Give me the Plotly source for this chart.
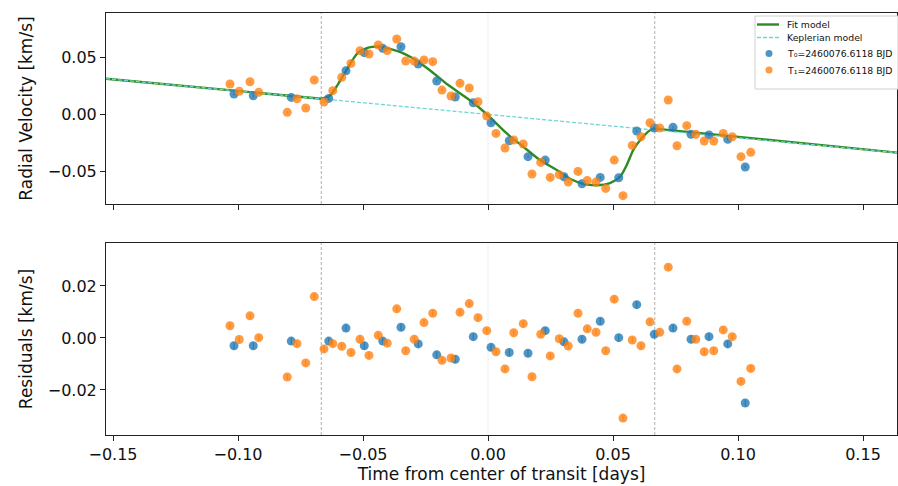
import plotly.graph_objects as go

# ---- Observed radial velocities (time from mid-transit [d], RV [km/s], residual [km/s]) ----
T0_TIME = [-0.1016, -0.0939, -0.0787, -0.0637, -0.0568, -0.0495, -0.0421, -0.0348, -0.0279,
           -0.0205, -0.0131, -0.0059, 0.0012, 0.0085, 0.0160, 0.0229, 0.0304, 0.0376,
           0.0449, 0.0523, 0.0595, 0.0665, 0.0740, 0.0812, 0.0884, 0.0959, 0.1029]
T0_RV = [0.0175, 0.0160, 0.0146, 0.0137, 0.0380, 0.0538, 0.0576, 0.0590, 0.0439,
         0.0290, 0.0149, 0.0099, -0.0076, -0.0234, -0.0374, -0.0404, -0.0550, -0.0611,
         -0.0556, -0.0559, -0.0149, -0.0123, -0.0117, -0.0178, -0.0184, -0.0222, -0.0465]
T0_RES = [-0.0030, -0.0030, -0.0012, -0.0012, 0.0038, -0.0030, -0.0012, 0.0041, -0.0023,
          -0.0065, -0.0082, 0.0005, -0.0036, -0.0056, -0.0059, 0.0028, -0.0015, -0.0005,
          0.0064, 0.0001, 0.0128, 0.0014, 0.0038, -0.0005, 0.0005, -0.0023, -0.0250]
T0_ERR = 0.0013

T1_TIME = [-0.1032, -0.0995, -0.0952, -0.0917, -0.0803, -0.0764, -0.0729, -0.0695, -0.0656,
           -0.0621, -0.0585, -0.0548, -0.0512, -0.0476, -0.0439, -0.0403, -0.0365, -0.0329,
           -0.0295, -0.0256, -0.0221, -0.0184, -0.0148, -0.0112, -0.0075, -0.0040, -0.0005,
           0.0032, 0.0068, 0.0103, 0.0141, 0.0176, 0.0211, 0.0249, 0.0285, 0.0321,
           0.0360, 0.0397, 0.0432, 0.0471, 0.0505, 0.0540, 0.0577, 0.0612, 0.0648,
           0.0687, 0.0721, 0.0756, 0.0795, 0.0831, 0.0865, 0.0903, 0.0941, 0.0977,
           0.1012, 0.1051]
T1_RV = [0.0263, 0.0200, 0.0283, 0.0190, 0.0015, 0.0134, 0.0053, 0.0298, 0.0105,
         0.0205, 0.0322, 0.0444, 0.0556, 0.0526, 0.0605, 0.0556, 0.0658, 0.0465,
         0.0465, 0.0474, 0.0459, 0.0210, 0.0158, 0.0269, 0.0228, 0.0108, -0.0018,
         -0.0170, -0.0298, -0.0228, -0.0263, -0.0526, -0.0424, -0.0556, -0.0532, -0.0596,
         -0.0503, -0.0582, -0.0596, -0.0652, -0.0404, -0.0716, -0.0275, -0.0199, -0.0076,
         -0.0123, 0.0123, -0.0278, -0.0102, -0.0178, -0.0237, -0.0237, -0.0170, -0.0199,
         -0.0374, -0.0336]
T1_RES = [0.0047, -0.0006, 0.0085, 0.0001, -0.0150, -0.0022, -0.0096, 0.0159, -0.0042,
          -0.0022, -0.0032, -0.0056, -0.0005, -0.0067, 0.0010, -0.0020, 0.0112, -0.0049,
          -0.0005, 0.0059, 0.0095, -0.0086, -0.0077, 0.0099, 0.0132, 0.0078, 0.0028,
          -0.0053, -0.0119, 0.0020, 0.0055, -0.0149, 0.0014, -0.0069, -0.0003, -0.0031,
          0.0095, 0.0035, 0.0022, -0.0049, 0.0149, -0.0308, -0.0008, -0.0030, 0.0062,
          0.0022, 0.0272, -0.0119, 0.0064, -0.0005, -0.0053, -0.0049, 0.0031, 0.0005,
          -0.0167, -0.0117]
T1_ERR = 0.0011

# ---- Models ----
FIT_TIME = [-0.1528, -0.1100, -0.0800, -0.0667, -0.0632, -0.0599, -0.0559, -0.0519, -0.0479,
            -0.0439, -0.0385, -0.0332, -0.0279, -0.0225, -0.0159, -0.0059, 0.0000, 0.0075,
            0.0141, 0.0208, 0.0275, 0.0330, 0.0381, 0.0435, 0.0488, 0.0528, 0.0555,
            0.0581, 0.0615, 0.0648, 0.0667, 0.0900, 0.1200, 0.1636]
FIT_RV = [0.0310, 0.0222, 0.0161, 0.0134, 0.0162, 0.0265, 0.0412, 0.0540, 0.0583,
          0.0591, 0.0567, 0.0526, 0.0459, 0.0371, 0.0254, 0.0099, -0.0012, -0.0170,
          -0.0287, -0.0404, -0.0491, -0.0570, -0.0612, -0.0624, -0.0606, -0.0550, -0.0447,
          -0.0316, -0.0213, -0.0143, -0.0128, -0.0179, -0.0244, -0.0339]
KEP_TIME = [-0.1528, 0.1636]
KEP_RV = [0.0310, -0.0339]

TRANSIT_EDGES = [-0.0667, 0.0667]
X_RANGE = [-0.1528, 0.1636]
RV_RANGE = [-0.0789, 0.0886]
RES_RANGE = [-0.0373, 0.0365]

LEGEND_LABELS = ["Fit model", "Keplerian model",
                 "T\u2080=2460076.6118 BJD", "T\u2081=2460076.6118 BJD"]

BLUE = "#1f77b4"
ORANGE = "#ff7f0e"
GREEN = "#2e8b22"
CYAN = "#6fd6d6"
FONT = "DejaVu Sans"

W, H = 898, 486
M_L, M_R, M_T, M_B = 106, 1, 13, 51
PW, PH = W - M_L - M_R, H - M_T - M_B


def px(x):
    """Pixel column -> paper x."""
    return (x - M_L) / PW


def py(y):
    """Pixel row -> paper y."""
    return (H - M_B - y) / PH


fig = go.Figure()

# Fit model: straight out of transit, smooth curve inside the transit window
t1, t4 = TRANSIT_EDGES
segments = [
    ([t for t in FIT_TIME if t <= t1], [v for t, v in zip(FIT_TIME, FIT_RV) if t <= t1], "linear"),
    ([t for t in FIT_TIME if t1 <= t <= t4], [v for t, v in zip(FIT_TIME, FIT_RV) if t1 <= t <= t4], "spline"),
    ([t for t in FIT_TIME if t >= t4], [v for t, v in zip(FIT_TIME, FIT_RV) if t >= t4], "linear"),
]
for sx, sy, shape in segments:
    fig.add_trace(go.Scatter(x=sx, y=sy, mode="lines", name="Fit model", showlegend=False,
                             line=dict(color=GREEN, width=2.4, shape=shape, smoothing=0.8),
                             xaxis="x", yaxis="y"))
fig.add_trace(go.Scatter(x=KEP_TIME, y=KEP_RV, mode="lines", name="Keplerian model",
                         showlegend=False,
                         line=dict(color=CYAN, width=1.3, dash="4px,2px"),
                         xaxis="x", yaxis="y"))


def points(x, y, err, color, name, axis):
    return go.Scatter(x=x, y=y, mode="markers", name=name, showlegend=False,
                      marker=dict(color=color, size=9, opacity=0.78, line=dict(width=0)),
                      error_y=dict(type="constant", value=err, color=color, thickness=1, width=0),
                      xaxis=axis[0], yaxis=axis[1])


fig.add_trace(points(T0_TIME, T0_RV, T0_ERR, BLUE, LEGEND_LABELS[2], ("x", "y")))
fig.add_trace(points(T1_TIME, T1_RV, T1_ERR, ORANGE, LEGEND_LABELS[3], ("x", "y")))
fig.add_trace(points(T0_TIME, T0_RES, T0_ERR, BLUE, LEGEND_LABELS[2], ("x2", "y2")))
fig.add_trace(points(T1_TIME, T1_RES, T1_ERR, ORANGE, LEGEND_LABELS[3], ("x2", "y2")))

# Transit contact lines and mid-transit marker in both panels
shapes = []
for yref in ("y domain", "y2 domain"):
    xref = "x" if yref == "y domain" else "x2"
    for t in TRANSIT_EDGES:
        shapes.append(dict(type="line", xref=xref, yref=yref, x0=t, x1=t, y0=0, y1=1,
                           line=dict(color="#9a9a9a", width=0.8, dash="3px,2px"), layer="below"))
    shapes.append(dict(type="line", xref=xref, yref=yref, x0=0, x1=0, y0=0, y1=1,
                       line=dict(color="#cfcfcf", width=0.8, dash="1px,1.5px"), layer="below"))

# Compact legend box in the upper-right corner of the RV panel
shapes.append(dict(type="rect", xref="paper", yref="paper",
                   x0=px(755), x1=px(900), y0=py(89), y1=py(16),
                   line=dict(color="#d0d0d0", width=1), fillcolor="rgba(255,255,255,0.9)",
                   layer="above"))
rows = [24.5, 37.5, 53.5, 70]
shapes.append(dict(type="line", xref="paper", yref="paper", x0=px(757), x1=px(779),
                   y0=py(rows[0]), y1=py(rows[0]), line=dict(color=GREEN, width=2.4),
                   layer="above"))
shapes.append(dict(type="line", xref="paper", yref="paper", x0=px(757), x1=px(779),
                   y0=py(rows[1]), y1=py(rows[1]), line=dict(color=CYAN, width=1.3, dash="4px,2px"),
                   layer="above"))
for row, col in ((rows[2], BLUE), (rows[3], ORANGE)):
    shapes.append(dict(type="circle", xref="paper", yref="paper",
                       x0=px(765.5), x1=px(772.5), y0=py(row + 3.5), y1=py(row - 3.5),
                       line=dict(width=0), fillcolor=col, opacity=0.78, layer="above"))

annotations = [dict(text=lab, xref="paper", yref="paper", x=px(785), y=py(row),
                    xanchor="left", yanchor="middle", showarrow=False,
                    font=dict(family=FONT, size=9.3, color="#111"))
               for lab, row in zip(LEGEND_LABELS, rows)]

axis_common = dict(showline=True, mirror=True, linecolor="#222", linewidth=1.1,
                   ticks="outside", ticklen=5, tickwidth=1, tickcolor="#222",
                   showgrid=False, zeroline=False,
                   tickfont=dict(family=FONT, size=16, color="#111"))

fig.update_layout(
    width=W, height=H,
    margin=dict(l=M_L, r=M_R, t=M_T, b=M_B),
    paper_bgcolor="white", plot_bgcolor="white",
    font=dict(family=FONT, color="#111"),
    showlegend=False,
    shapes=shapes,
    annotations=annotations,
    xaxis=dict(domain=[0, 1], anchor="y", range=X_RANGE, showticklabels=False,
               tickvals=[-0.15, -0.10, -0.05, 0.0, 0.05, 0.10, 0.15], **axis_common),
    yaxis=dict(domain=[0.5474, 1.0], anchor="x", range=RV_RANGE,
               tickvals=[-0.05, 0.0, 0.05], tickformat=".2f",
               title=dict(text="Radial Velocity [km/s]", font=dict(family=FONT, size=17),
                          standoff=10), **axis_common),
    xaxis2=dict(domain=[0, 1], anchor="y2", range=X_RANGE, matches="x",
                tickvals=[-0.15, -0.10, -0.05, 0.0, 0.05, 0.10, 0.15], tickformat=".2f",
                title=dict(text="Time from center of transit [days]",
                           font=dict(family=FONT, size=17), standoff=3), **axis_common),
    yaxis2=dict(domain=[0.0, 0.455], anchor="x2", range=RES_RANGE,
                tickvals=[-0.02, 0.0, 0.02], tickformat=".2f",
                title=dict(text="Residuals [km/s]", font=dict(family=FONT, size=17),
                           standoff=10), **axis_common),
)

fig.write_html("out.html")
